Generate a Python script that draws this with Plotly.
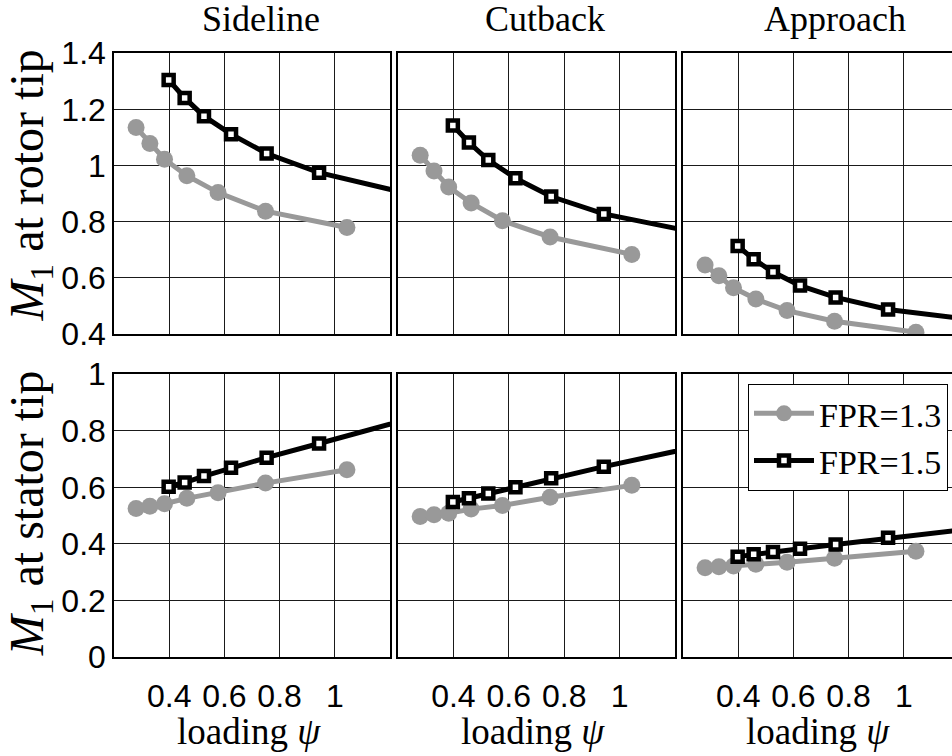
import plotly.graph_objects as go

# Fan loading sweep (psi) for the two fan pressure ratios
psi_fpr13 = [0.28, 0.33, 0.383, 0.464, 0.577, 0.749, 1.044]
psi_fpr15 = [0.398, 0.456, 0.526, 0.624, 0.753, 0.943, 1.30]

# Relative Mach number at rotor tip
sideline_rotor_13 = [1.136, 1.079, 1.023, 0.964, 0.904, 0.838, 0.780]
sideline_rotor_15 = [1.305, 1.241, 1.176, 1.112, 1.043, 0.975, 0.892]
cutback_rotor_13 = [1.037, 0.981, 0.924, 0.867, 0.804, 0.746, 0.684]
cutback_rotor_15 = [1.143, 1.082, 1.020, 0.955, 0.890, 0.828, 0.757]
approach_rotor_13 = [0.646, 0.608, 0.565, 0.525, 0.484, 0.446, 0.407]
approach_rotor_15 = [0.714, 0.667, 0.621, 0.573, 0.531, 0.488, 0.445]

# Mach number at stator tip
sideline_stator_13 = [0.525, 0.533, 0.542, 0.561, 0.581, 0.615, 0.662]
sideline_stator_15 = [0.602, 0.617, 0.640, 0.669, 0.705, 0.755, 0.850]
cutback_stator_13 = [0.497, 0.503, 0.508, 0.523, 0.536, 0.565, 0.607]
cutback_stator_15 = [0.548, 0.561, 0.578, 0.600, 0.632, 0.673, 0.748]
approach_stator_13 = [0.316, 0.319, 0.322, 0.328, 0.335, 0.349, 0.374]
approach_stator_15 = [0.355, 0.363, 0.371, 0.383, 0.398, 0.422, 0.460]

conditions = ["Sideline", "Cutback", "Approach"]
series_names = ["FPR=1.3", "FPR=1.5"]
x_tickvals = [0.4, 0.6, 0.8, 1.0]
x_ticktext = ["0.4", "0.6", "0.8", "1"]
rotor_tickvals = [0.4, 0.6, 0.8, 1.0, 1.2, 1.4]
rotor_ticktext = ["0.4", "0.6", "0.8", "1", "1.2", "1.4"]
stator_tickvals = [0.0, 0.2, 0.4, 0.6, 0.8, 1.0]
stator_ticktext = ["0", "0.2", "0.4", "0.6", "0.8", "1"]

rotor = [
    (sideline_rotor_13, sideline_rotor_15),
    (cutback_rotor_13, cutback_rotor_15),
    (approach_rotor_13, approach_rotor_15),
]
stator = [
    (sideline_stator_13, sideline_stator_15),
    (cutback_stator_13, cutback_stator_15),
    (approach_stator_13, approach_stator_15),
]

W, H = 952, 756
GRAY = "#999999"
SERIF = "Liberation Serif, Times New Roman, serif"
SANS = "Liberation Sans, Arial, sans-serif"

# panel geometry in pixels
col_px = [(114, 390), (398, 675), (683, 952)]
row_px = [(37, 332), (374, 671)]


def xdom(c):
    return [col_px[c][0] / W, col_px[c][1] / W]


def ydom(r):
    return [1 - row_px[r][1] / H, 1 - row_px[r][0] / H]


fig = go.Figure()

for r, block in enumerate([rotor, stator]):
    for c, (m13, m15) in enumerate(block):
        idx = r * 3 + c + 1
        xa = "x" if idx == 1 else f"x{idx}"
        ya = "y" if idx == 1 else f"y{idx}"
        first = idx == 1
        fig.add_trace(go.Scatter(
            x=psi_fpr13, y=m13, xaxis=xa, yaxis=ya,
            mode="lines+markers", name=series_names[0],
            line=dict(color=GRAY, width=5),
            marker=dict(symbol="circle", size=17, color=GRAY),
            showlegend=first, legendgroup="a",
        ))
        fig.add_trace(go.Scatter(
            x=psi_fpr15, y=m15, xaxis=xa, yaxis=ya,
            mode="lines+markers", name=series_names[1],
            line=dict(color="black", width=5),
            marker=dict(symbol="square", size=10, color="white",
                        line=dict(color="black", width=4.5)),
            showlegend=first, legendgroup="b",
        ))

        xkey = "xaxis" if idx == 1 else f"xaxis{idx}"
        ykey = "yaxis" if idx == 1 else f"yaxis{idx}"
        xr = [0.2, 1.2] if c < 2 else [0.2, 0.2 + (col_px[2][1] - col_px[2][0]) / 276.0]
        fig.layout[xkey] = dict(
            domain=xdom(c), range=xr, anchor=ya,
            tickvals=x_tickvals, ticktext=x_ticktext,
            showticklabels=(r == 1), ticklabelstandoff=10,
            tickfont=dict(family=SANS, size=32, color="black"),
            showgrid=True, gridcolor="#1a1a1a", gridwidth=1,
            zeroline=False, showline=True, linecolor="black",
            linewidth=1.5, mirror=True, ticks="",
        )
        tv, tt = (rotor_tickvals, rotor_ticktext) if r == 0 else (stator_tickvals, stator_ticktext)
        fig.layout[ykey] = dict(
            domain=ydom(r), range=[0.4, 1.4] if r == 0 else [0.0, 1.0],
            anchor=xa, tickvals=tv, ticktext=tt,
            showticklabels=(c == 0),
            tickfont=dict(family=SANS, size=32, color="black"),
            showgrid=True, gridcolor="#1a1a1a", gridwidth=1,
            zeroline=False, showline=True, linecolor="black",
            linewidth=1.5, mirror=(c < 2), ticks="",
        )

annotations = []
title_cx = [261, 545, 835]
for c, name in enumerate(conditions):
    annotations.append(dict(
        text=name, x=title_cx[c] / W, y=1 - 24 / H, xref="paper", yref="paper",
        xanchor="center", yanchor="bottom", showarrow=False,
        font=dict(family=SERIF, size=36, color="black"),
    ))
for c in range(3):
    cx = (col_px[c][0] + col_px[c][0] + 277) / 2 - 4
    annotations.append(dict(
        text="loading <i>ψ</i>", x=cx / W, y=0, xref="paper", yref="paper",
        xanchor="center", yanchor="bottom", yshift=-16, showarrow=False,
        font=dict(family=SERIF, size=37, color="black"),
    ))
for r, label in enumerate(["rotor", "stator"]):
    cy = 176 if r == 0 else 520
    annotations.append(dict(
        text=f"<i>M</i><sub>1</sub> at {label} tip", x=30 / W, y=1 - cy / H,
        xref="paper", yref="paper", xanchor="center", yanchor="middle",
        textangle=-90, showarrow=False,
        font=dict(family=SERIF, size=48, color="black"),
    ))

fig.update_layout(
    width=W, height=H,
    margin=dict(l=0, r=0, t=0, b=0),
    paper_bgcolor="white", plot_bgcolor="white",
    annotations=annotations,
    legend=dict(
        x=948 / W, xanchor="right", y=1 - 384 / H, yanchor="top",
        bgcolor="white", bordercolor="black", borderwidth=1,
        font=dict(family=SERIF, size=34, color="black"),
        tracegroupgap=0, itemwidth=60,
    ),
    showlegend=True,
)

fig.write_html("out.html")
